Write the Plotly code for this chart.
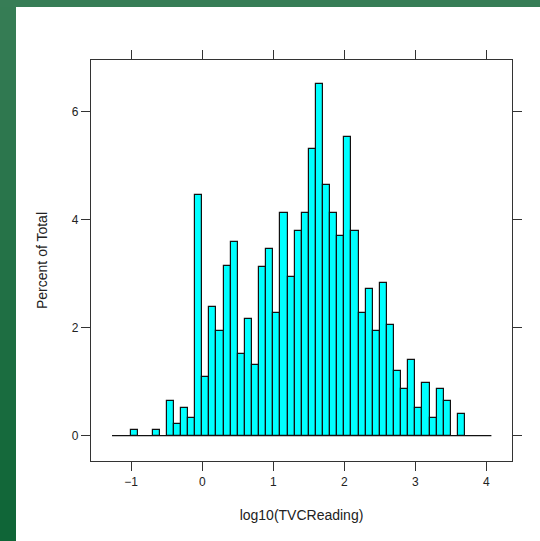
import plotly.graph_objects as go

# Histogram bins of log10(TVCReading), width 0.1, from -1.0 to 3.7
bin_left = [-1.0, -0.9, -0.8, -0.7, -0.6, -0.5, -0.4, -0.3, -0.2, -0.1,
            0.0, 0.1, 0.2, 0.3, 0.4, 0.5, 0.6, 0.7, 0.8, 0.9,
            1.0, 1.1, 1.2, 1.3, 1.4, 1.5, 1.6, 1.7, 1.8, 1.9,
            2.0, 2.1, 2.2, 2.3, 2.4, 2.5, 2.6, 2.7, 2.8, 2.9,
            3.0, 3.1, 3.2, 3.3, 3.4, 3.5, 3.6]
bin_width = 0.1
percent = [0.11, 0.0, 0.0, 0.11, 0.0, 0.64, 0.22, 0.52, 0.33, 4.46,
           1.08, 2.38, 1.94, 3.14, 3.58, 1.52, 2.17, 1.30, 3.13, 3.46,
           2.27, 4.13, 2.94, 3.80, 4.13, 5.32, 6.51, 4.65, 4.13, 3.69,
           5.54, 3.80, 2.27, 2.72, 1.94, 2.82, 2.05, 1.19, 0.86, 1.41,
           0.52, 0.98, 0.33, 0.86, 0.64, 0.0, 0.41]

x_ticks = [-1, 0, 1, 2, 3, 4]
y_ticks = [0, 2, 4, 6]
x_range = [-1.566, 4.36]
y_range = [-0.47, 6.96]
ref_line_x = [-1.27, 4.07]

centers = [b + bin_width / 2 for b in bin_left]
heights = [p if p > 0 else None for p in percent]

fig = go.Figure()
fig.add_trace(go.Scatter(x=ref_line_x, y=[0, 0], mode="lines",
                         line=dict(color="#111111", width=1.3),
                         hoverinfo="skip", showlegend=False))
fig.add_trace(go.Bar(x=centers, y=heights, width=bin_width,
                     marker=dict(color="#00FFFF",
                                 line=dict(color="#111111", width=1.2)),
                     showlegend=False))

W, H = 540, 541
L, R, T, B = 91, 28, 60, 80
pw, ph = W - L - R, H - T - B

def px(xp):
    return (xp - L) / pw

def py(yp):
    return 1 - (yp - T) / ph

shapes = []
# left green band with vertical gradient (strips on whole pixels, overlapping)
n = 27
step = 20
top_c = (55, 125, 86)
bot_c = (14, 101, 54)
for i in range(n + 1):
    f = min(1.0, (i + 0.5) / n)
    c = tuple(int(round(top_c[k] + (bot_c[k] - top_c[k]) * f)) for k in range(3))
    y0p = step * i
    y1p = min(H + 5, step * (i + 1) + 2)
    shapes.append(dict(type="rect", xref="paper", yref="paper",
                       x0=px(-3), x1=px(16), y0=py(y1p), y1=py(y0p),
                       fillcolor="rgb(%d,%d,%d)" % c, line=dict(width=0),
                       layer="below"))
# top green band
shapes.append(dict(type="rect", xref="paper", yref="paper",
                   x0=px(-3), x1=px(W + 3), y0=py(7), y1=py(-3),
                   fillcolor="rgb(55,125,86)", line=dict(width=0),
                   layer="below"))

fig.update_layout(
    width=W, height=H,
    margin=dict(l=L, r=R, t=T, b=B, pad=0),
    paper_bgcolor="white", plot_bgcolor="white",
    font=dict(family="Liberation Sans, Arial, sans-serif", color="#222222"),
    bargap=0,
    shapes=shapes,
    xaxis=dict(range=x_range, tickvals=x_ticks,
               ticktext=["\u22121" if v < 0 else str(v) for v in x_ticks],
               showgrid=False, zeroline=False,
               showline=True, linecolor="#333333", linewidth=1.2, mirror="ticks",
               ticks="outside", ticklen=9, tickwidth=1.2, tickcolor="#333333",
               tickfont=dict(size=12),
               title=dict(text="log10(TVCReading)", font=dict(size=14), standoff=22)),
    yaxis=dict(range=y_range, tickvals=y_ticks,
               showgrid=False, zeroline=False,
               showline=True, linecolor="#333333", linewidth=1.2, mirror="ticks",
               ticks="outside", ticklen=9, tickwidth=1.2, tickcolor="#333333",
               tickfont=dict(size=12),
               title=dict(text="Percent of Total", font=dict(size=14), standoff=20)),
)

fig.write_html("out.html")
